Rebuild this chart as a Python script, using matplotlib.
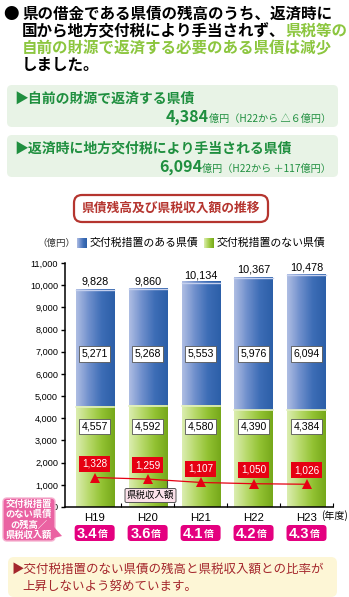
import matplotlib
matplotlib.use("Agg")
import matplotlib.pyplot as plt
import numpy as np
from matplotlib.patches import FancyBboxPatch, Polygon
from matplotlib.colors import LinearSegmentedColormap

plt.rcParams['font.family'] = ['Noto Sans CJK JP', 'DejaVu Sans']

# -------------------------------------------------------
# DATA
# -------------------------------------------------------
years = ["H19", "H20", "H21", "H22", "H23"]
with_grant = [5271, 5268, 5553, 5976, 6094]      # 交付税措置のある県債
without_grant = [4557, 4592, 4580, 4390, 4384]   # 交付税措置のない県債
totals = [9828, 9860, 10134, 10367, 10478]
tax_revenue = [1328, 1259, 1107, 1050, 1026]     # 県税収入額
ratios = ["3.4", "3.6", "4.1", "4.2", "4.3"]
yticks = [0, 1000, 2000, 3000, 4000, 5000, 6000, 7000, 8000, 9000, 10000, 11000]

W, H = 349, 597
fig = plt.figure(figsize=(W / 100, H / 100), dpi=100)

# background axes in pixel coordinates (y downwards)
bg = fig.add_axes([0, 0, 1, 1])
bg.axis("off")

NUM = ["Liberation Sans", "DejaVu Sans"]
GREEN_TXT = "#1f8f3f"
LIGHT_GREEN = "#8cc63f"


def rbox(a, x0, y0, x1, y1, fc, ec="none", lw=0, r=5, z=1):
    p = FancyBboxPatch((x0, y0), x1 - x0, y1 - y0,
                       boxstyle=f"round,pad=0,rounding_size={r}",
                       fc=fc, ec=ec, lw=lw, zorder=z)
    a.add_patch(p)


def px_extent(t):
    fig.canvas.draw()
    bb = t.get_window_extent()
    return bb.x0, bb.x1


def fix_px(a):
    a.set_xlim(0, W)
    a.set_ylim(H, 0)


fix_px(bg)

# -------------------------------------------------------
# TOP TEXT
# -------------------------------------------------------
fs_top = 11.2
bg.text(3, 14, "●", fontsize=fs_top, fontweight="bold", va="center")
bg.text(22, 14, "県の借金である県債の残高のうち、返済時に",
        fontsize=fs_top, fontweight="bold", va="center")
t2 = bg.text(22, 31, "国から地方交付税により手当されず、",
             fontsize=fs_top, fontweight="bold", va="center")
x0, x1 = px_extent(t2)
bg.text(x1, 31, "県税等の", fontsize=fs_top, fontweight="bold",
        va="center", color=LIGHT_GREEN)
bg.text(22, 48, "自前の財源で返済する必要のある県債は減少",
        fontsize=fs_top, fontweight="bold", va="center", color=LIGHT_GREEN)
bg.text(22, 65, "しました。", fontsize=fs_top, fontweight="bold", va="center")

# -------------------------------------------------------
# GREEN SUMMARY BOXES
# -------------------------------------------------------
boxes = [
    (85, 127, "▶自前の財源で返済する県債", "4,384", "億円（H22から △６億円）"),
    (135, 177, "▶返済時に地方交付税により手当される県債", "6,094", "億円（H22から ＋117億円）"),
]
for top, bot, head, amount, note in boxes:
    rbox(bg, 7, top, 338, bot, "#e8f3e6", r=5)
    bg.text(14, top + 13.5, head, fontsize=10, fontweight="bold",
            color=GREEN_TXT, va="center")
    tn = bg.text(331, top + 36.5, note, fontsize=7.3, color=GREEN_TXT,
                 va="baseline", ha="right")
    nx0, nx1 = px_extent(tn)
    bg.text(nx0, top + 36.5, amount, fontsize=11.5, fontweight="bold",
            color=GREEN_TXT, va="baseline", ha="right")

# -------------------------------------------------------
# CHART TITLE
# -------------------------------------------------------
rbox(bg, 74, 195, 268, 222, "white", ec="#b5352f", lw=1.6, r=8, z=2)
bg.text(171, 208.5, "県債残高及び県税収入額の推移", fontsize=9.2,
        fontweight="bold", color="#b5352f", ha="center", va="center", zorder=3)

# -------------------------------------------------------
# LEGEND
# -------------------------------------------------------
blue_cmap = LinearSegmentedColormap.from_list(
    "b", ["#aebde3", "#6f8fcc", "#3d6db6", "#2c5fa8"])
green_cmap = LinearSegmentedColormap.from_list(
    "g", ["#dbedb0", "#b7d96a", "#92c233", "#76a81a"])
grad = np.linspace(0, 1, 64).reshape(1, -1)

bg.text(37, 243, "（億円）", fontsize=6.8, va="center", color="#333333")
bg.imshow(grad, extent=(77, 87, 248, 238), cmap=blue_cmap, aspect="auto", zorder=2)
bg.text(90, 243, "交付税措置のある県債", fontsize=7.8, va="center")
bg.imshow(grad, extent=(204, 214, 248, 238), cmap=green_cmap, aspect="auto", zorder=2)
bg.text(217, 243, "交付税措置のない県債", fontsize=7.8, va="center")
fix_px(bg)

# -------------------------------------------------------
# MAIN CHART
# -------------------------------------------------------
ax_l, ax_r, ax_t, ax_b = 65, 333, 263, 507
ax = fig.add_axes([ax_l / W, 1 - ax_b / H, (ax_r - ax_l) / W, (ax_b - ax_t) / H])
ax.patch.set_alpha(0)
ax.set_autoscale_on(False)

x = np.arange(len(years))
bw = 0.72
for i in x:
    g = without_grant[i]
    b = with_grant[i]
    ax.imshow(grad, extent=(i - bw / 2, i + bw / 2, 0, g), cmap=green_cmap,
              aspect="auto", zorder=2)
    ax.imshow(grad, extent=(i - bw / 2, i + bw / 2, g, g + b), cmap=blue_cmap,
              aspect="auto", zorder=2)
    ax.plot([i - bw / 2, i + bw / 2], [g + b - 40, g + b - 40], color="#c4d0ee",
            lw=1, zorder=3)
    ax.plot([i - bw / 2, i + bw / 2], [g - 30, g - 30], color="#e4f0c4",
            lw=1.2, zorder=3)
ax.set_xlim(-0.56, 4.5)
ax.set_ylim(0, 11000)

# total labels above bars
for i in x:
    ax.annotate(f"{totals[i]:,}", (i, totals[i]), xytext=(0, 1.5),
                textcoords="offset points", ha="center", va="bottom",
                fontsize=7.8, family=NUM, zorder=5)

# segment labels in white boxes
box_style = dict(boxstyle="square,pad=0.25", fc="white", ec="#555555", lw=0.6)
for i in x:
    ax.text(i, 6900, f"{with_grant[i]:,}", ha="center", va="center",
            fontsize=7.6, family=NUM, bbox=box_style, zorder=5)
    ax.text(i, 3620, f"{without_grant[i]:,}", ha="center", va="center",
            fontsize=7.6, family=NUM, bbox=box_style, zorder=5)

# tax revenue line
ax.plot(x, tax_revenue, color="#e60012", lw=0.9, marker="^", markersize=7.5,
        markeredgewidth=0, zorder=6, clip_on=False)
red_style = dict(boxstyle="square,pad=0.3", fc="#e60012", ec="none")
for i in x:
    ax.annotate(f"{tax_revenue[i]:,}", (i, tax_revenue[i]), xytext=(0, 10),
                textcoords="offset points", ha="center", va="center",
                fontsize=7.2, color="white", family=NUM, bbox=red_style, zorder=7)

# axes styling
for s in ["top", "right"]:
    ax.spines[s].set_visible(False)
ax.spines["left"].set_linewidth(1.1)
ax.spines["bottom"].set_linewidth(1.1)
ax.set_yticks(yticks)
ax.set_yticklabels([f"{v:,}" for v in yticks], fontsize=6.6, family=NUM)
ax.tick_params(axis="y", length=3, width=1, pad=2)
ax.set_xticks(x)
ax.set_xticklabels(years, fontsize=8.2, family=NUM)
ax.tick_params(axis="x", which="major", length=0, pad=4)
ax.set_xticks(x + 0.5, minor=True)
ax.tick_params(axis="x", which="minor", direction="in", length=3, width=0.8)

# -------------------------------------------------------
# OVERLAY (drawn on top of the chart)
# -------------------------------------------------------
fg = fig.add_axes([0, 0, 1, 1])
fg.axis("off")
fg.patch.set_alpha(0)
fix_px(fg)

# (年度)
fg.text(321, 516, "(年度)", fontsize=7.2, va="center")

# "県税収入額" label box
fg.plot([167, 167], [481, 489], color="#444444", lw=0.8, zorder=5)
rbox(fg, 125, 488.5, 176, 502.5, "#fbe1ea", ec="#555555", lw=0.7, r=1.5, z=6)
fg.text(150.5, 495.5, "県税収入額", fontsize=6.8, ha="center", va="center", zorder=7)

# ratio boxes
for i in x:
    cx, _ = ax.transData.transform((i, 0))
    rbox(fg, cx - 20, 525, cx + 20, 541, "#e4007f", r=3.5, z=3)
    fg.text(cx + 3, 533.5, ratios[i], fontsize=10.5, fontweight="bold",
            color="white", ha="right", va="center", family=NUM, zorder=4)
    fg.text(cx + 3.5, 534.5, "倍", fontsize=7, fontweight="bold",
            color="white", ha="left", va="center", zorder=4)

# pink callout on the left
rbox(fg, 3, 498, 55, 541, "#ea62a2", ec="#f6b3d1", lw=1, r=4, z=3)
fg.add_patch(Polygon([(54, 527), (54, 538), (62, 536)], closed=True,
                     fc="#ea62a2", ec="none", zorder=3))
for yy, line in zip([504, 514.5, 525, 535.5],
                    ["交付税措置", "のない県債", "の残高／", "県税収入額"]):
    fg.text(29, yy, line, fontsize=6.7, fontweight="bold", color="white",
            ha="center", va="center", zorder=4)

# -------------------------------------------------------
# BOTTOM NOTE
# -------------------------------------------------------
rbox(fg, 8, 557, 337, 597, "#fdf6d6", r=6)
fg.text(11, 569.5, "▶交付税措置のない県債の残高と県税収入額との比率が",
        fontsize=9, color="#a4262c", va="center")
fg.text(22, 586, "上昇しないよう努めています。",
        fontsize=9, color="#a4262c", va="center")

fix_px(fg)
fix_px(bg)

fig.savefig("out.png", dpi=100)
